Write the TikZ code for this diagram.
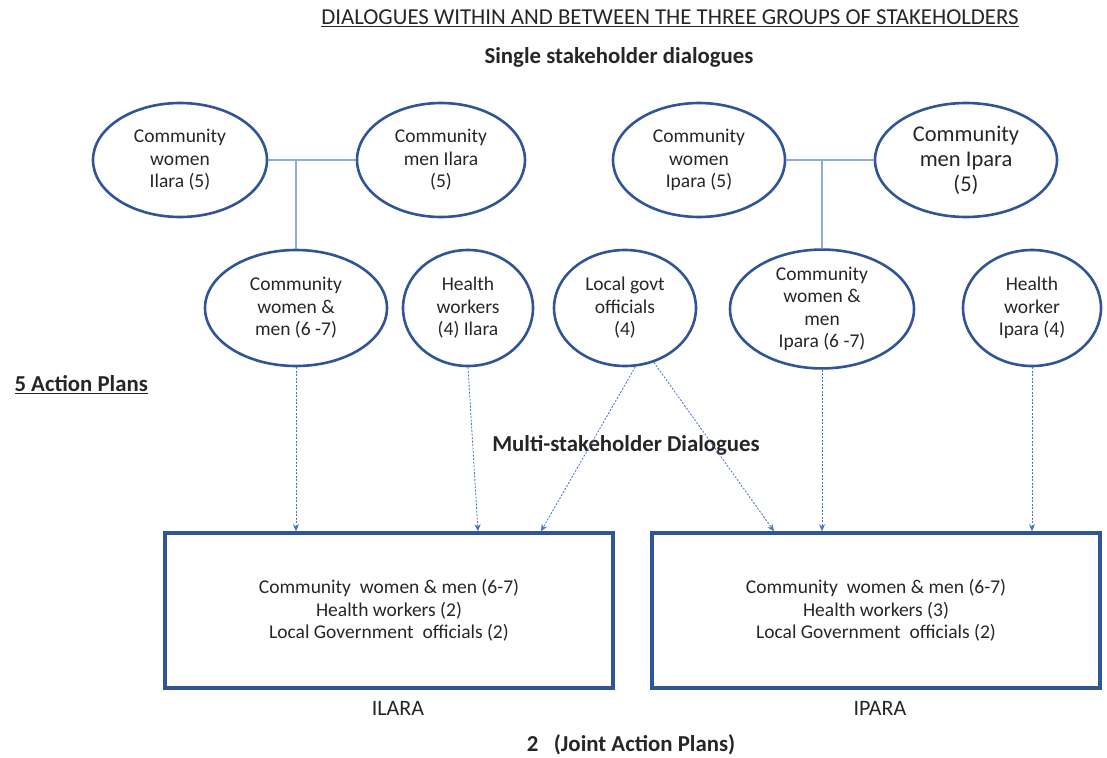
\documentclass[tikz,border=0pt]{standalone}
\usepackage{fontspec}
\setmainfont{Carlito}
\usepackage{tikz}
\usetikzlibrary{positioning,shapes.geometric,arrows.meta,calc}
\definecolor{darkblue}{HTML}{2F5597}
\definecolor{lineblue}{HTML}{8FAADC}
\definecolor{arrowblue}{HTML}{4472C4}
\tikzset{
  every node/.style={font=\fontsize{19.5}{22.5}\selectfont, text=black!85},
  heading/.style={font=\fontsize{22.8}{26}\selectfont\bfseries},
  stake/.style={ellipse, draw=darkblue, line width=2.6, align=center, inner sep=0pt},
  jointbox/.style={rectangle, draw=darkblue, line width=3.5, align=center,
    minimum width=448, minimum height=155},
  link/.style={lineblue, line width=1.4},
  flow/.style={arrowblue, line width=0.8, dash pattern=on 2pt off 1.5pt,
    -{Stealth[length=7pt,width=6pt]}},
}

\begin{document}
\begin{tikzpicture}[x=1pt,y=-1pt]
    \useasboundingbox (0,0) rectangle (1107,757);
    % headings
    \node[font=\fontsize{22.8}{26}\selectfont] (title) at (670,18) {\underline{DIALOGUES WITHIN AND BETWEEN THE THREE GROUPS OF STAKEHOLDERS}};
    \node[heading] (single) at (619,57) {Single stakeholder dialogues};
    \node[heading] (multi) at (626,445) {Multi-stakeholder Dialogues};
    \node[heading, anchor=west] (plans) at (11,385) {\underline{5 Action Plans}};
    \node[heading] (joint) at (631,745) {2\ \ \ (Joint Action Plans)};

    % single stakeholder groups
    \node[stake, minimum width=174, minimum height=114] (cwI) at (180,160) {Community\\women\\Ilara (5)};
    \node[stake, minimum width=168, minimum height=114] (cmI) at (441,160) {Community\\men Ilara\\(5)};
    \node[stake, minimum width=172, minimum height=114] (cwP) at (699,160) {Community\\women\\Ipara (5)};
    \node[stake, minimum width=182, minimum height=114,
      font=\fontsize{22.5}{25}\selectfont] (cmP) at (966,160) {Community\\men Ipara\\(5)};

    \node[stake, minimum width=182, minimum height=116] (cwmI) at (296,308) {Community\\women \&\\men (6 -7)};
    \node[stake, minimum width=130, minimum height=116] (hwI) at (468,308) {Health\\workers\\(4) Ilara};
    \node[stake, minimum width=142, minimum height=116] (lg) at (625,308) {Local govt\\officials\\(4)};
    \node[stake, minimum width=184, minimum height=116] (cwmP) at (822,309) {Community\\women \&\\men\\Ipara (6 -7)};
    \node[stake, minimum width=138, minimum height=116] (hwP) at (1032,308) {Health\\worker\\Ipara (4)};

    % joint action plan boxes
    \node[jointbox] (ilara) at (389,610.5) {Community\ \ women \& men (6-7)\\Health workers (2)\\Local Government\ \ officials (2)};
    \node[jointbox] (ipara) at (876,610.5) {Community\ \ women \& men (6-7)\\Health workers (3)\\Local Government\ \ officials (2)};
    \node[font=\fontsize{22}{25}\selectfont] (ilaralbl) at (398,708) {ILARA};
    \node[font=\fontsize{22}{25}\selectfont] (iparalbl) at (880,708) {IPARA};

    % joining lines
    \draw[link] (cwI.east) -- (cmI.west);
    \draw[link] (cwmI.north) -- (cwmI.north |- cwI.east);
    \draw[link] (cwP.east) -- (cmP.west);
    \draw[link] (cwmP.north) -- (cwmP.north |- cwP.east);

    % into the joint dialogues
    \draw[flow] (cwmI.south) -- (cwmI.south |- ilara.north);
    \draw[flow] (hwI.south) -- ([xshift=89]ilara.north);
    \draw[flow] (lg.-80) -- ([xshift=152]ilara.north);
    \draw[flow] (lg.-62) -- ([xshift=-102]ipara.north);
    \draw[flow] (cwmP.south) -- (cwmP.south |- ipara.north);
    \draw[flow] (hwP.south) -- (hwP.south |- ipara.north);
\end{tikzpicture}
\end{document}
